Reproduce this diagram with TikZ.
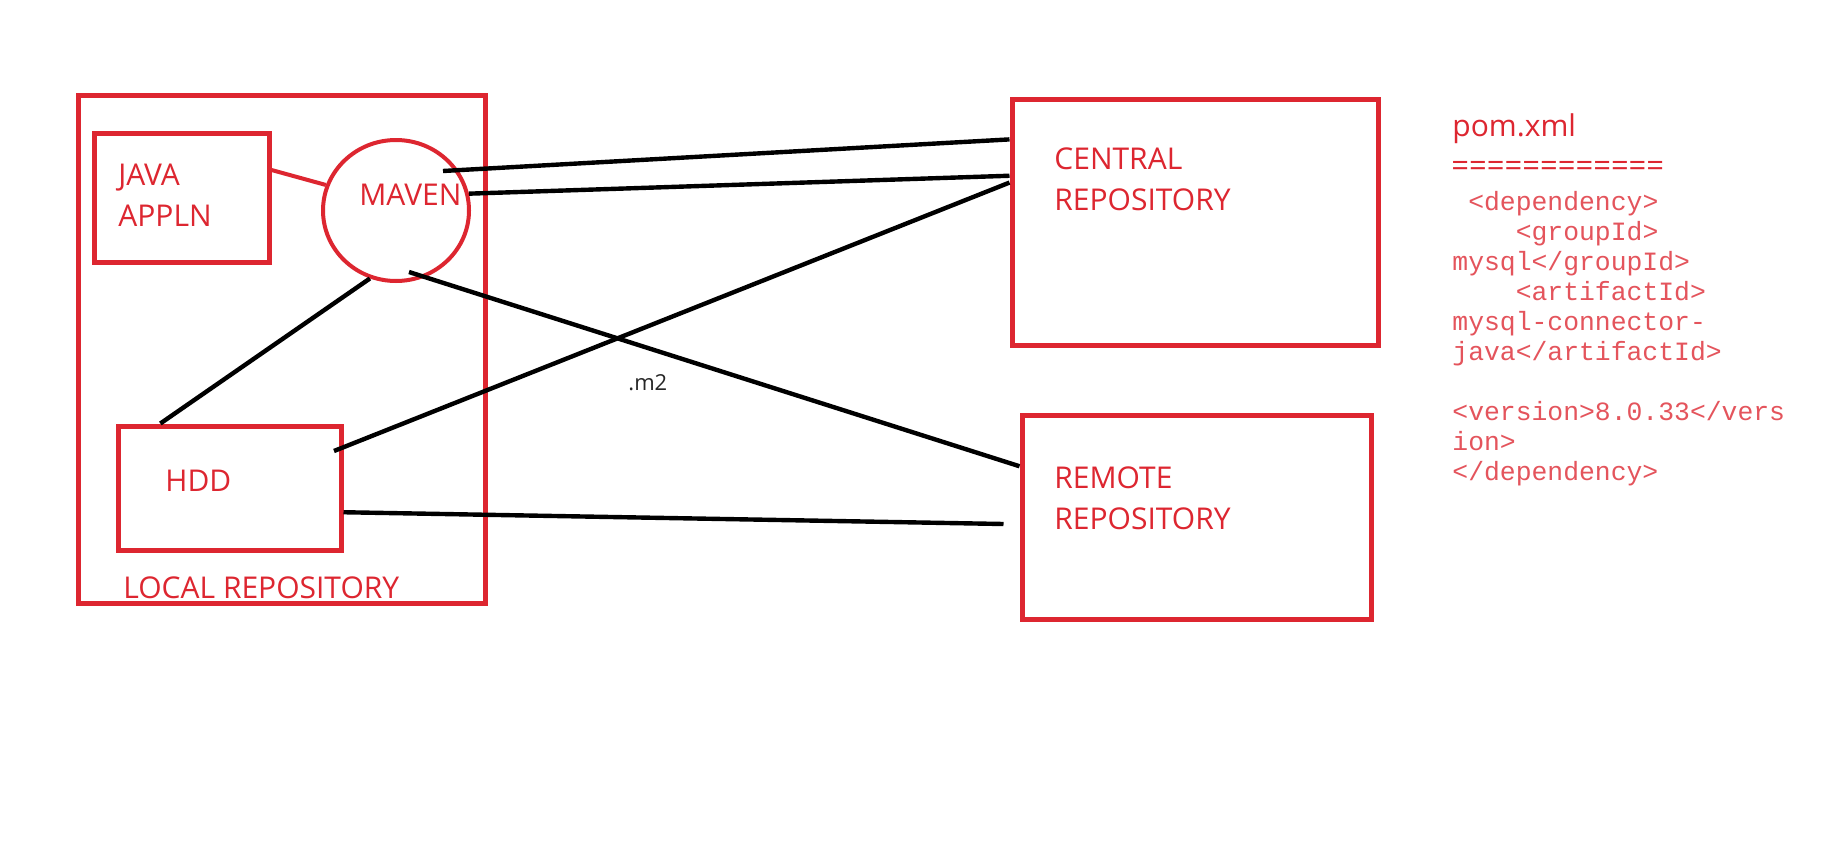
\documentclass[tikz,border=0pt]{standalone}
\usepackage{fontspec}
\setmainfont{Open Sans}
\newfontfamily\codefont{Liberation Mono}
\usetikzlibrary{shapes.geometric}
\definecolor{paintred}{RGB}{221,38,48}
\definecolor{codered}{RGB}{228,84,92}

\begin{document}
\begin{tikzpicture}[x=0.5pt,y=-0.5pt,
    box/.style={draw=paintred,line width=2.5pt,inner sep=0pt},
    lbl/.style={text=paintred,font=\fontsize{15}{20.5}\selectfont,inner sep=0pt},
    code/.style={text=codered,font=\codefont\fontsize{13.2}{15}\selectfont,inner sep=0pt,anchor=base west},
    wire/.style={black,line width=2.2pt}]
    \fill[white] (0,0) rectangle (1831,846);
    \useasboundingbox (0,0) rectangle (1831,846);

    % local side
    \node[box,minimum width=203.5pt,minimum height=254pt] (local) at (281.5,349) {};
    \node[box,minimum width=87.5pt,minimum height=64.5pt] (java) at (181.5,197.5) {};
    \node[box,ellipse,line width=2pt,minimum width=73pt,minimum height=70.5pt] (maven) at (396,210.5) {};
    \node[box,minimum width=111.5pt,minimum height=62pt] (hdd) at (229.5,488) {};

    % remote side
    \node[box,minimum width=183pt,minimum height=123pt] (central) at (1195,222) {};
    \node[box,minimum width=174.5pt,minimum height=102pt] (remote) at (1196.5,517) {};

    \node[lbl,anchor=north west,align=left] (javatxt) at (118,163.5) {JAVA\\APPLN};
    \node[lbl,anchor=base west] (maventxt) at (359,205) {MAVEN};
    \node[lbl,anchor=base west] (hddtxt) at (165,491.5) {HDD};
    \node[lbl,anchor=base west] (localtxt) at (123,598) {LOCAL REPOSITORY};
    \node[lbl,anchor=north west,align=left] (centraltxt) at (1054,147.5) {CENTRAL\\REPOSITORY};
    \node[lbl,anchor=north west,align=left] (remotetxt) at (1054,466.5) {REMOTE\\REPOSITORY};
    \node[inner sep=0pt,anchor=base west,font=\fontsize{11}{13}\selectfont,text=black!85] (m2) at (628,390) {.m2};

    % pom.xml
    \node[lbl,anchor=base west] (pomtxt) at (1452,136) {pom.xml};
    \node[lbl,anchor=west,font=\fontsize{15.5}{20}\selectfont] (pomrule) at (1451,169) {============};
    \foreach \y/\t [count=\i] in {210/{\phantom{0}<dependency>},240/{\phantom{0000}<groupId>},
        270/{mysql</groupId>},300/{\phantom{0000}<artifactId>},330/{mysql-connector-},
        360/{java</artifactId>},420/{<version>8.0.33</vers},450/{ion>},480/{</dependency>}} {
        \node[code] (pom\i) at (1452,\y) {\t};
    }

    \draw[paintred,line width=2pt] (java.17) -- (maven.160);
    \draw[wire] ([shift={(47,-39.5)}]maven.center) -- (central.156);
    \draw[wire] (maven.13) -- (central.166);
    \draw[wire] ([shift={(13,61.5)}]maven.center) -- (remote.164);
    \draw[wire] (hdd.137) -- (maven.249);
    \draw[wire] ([shift={(104.5,-37)}]hdd.center) -- (central.168);
    \draw[wire] (hdd.-12) -- ([shift={(-16,7)}]remote.west);
\end{tikzpicture}
\end{document}
